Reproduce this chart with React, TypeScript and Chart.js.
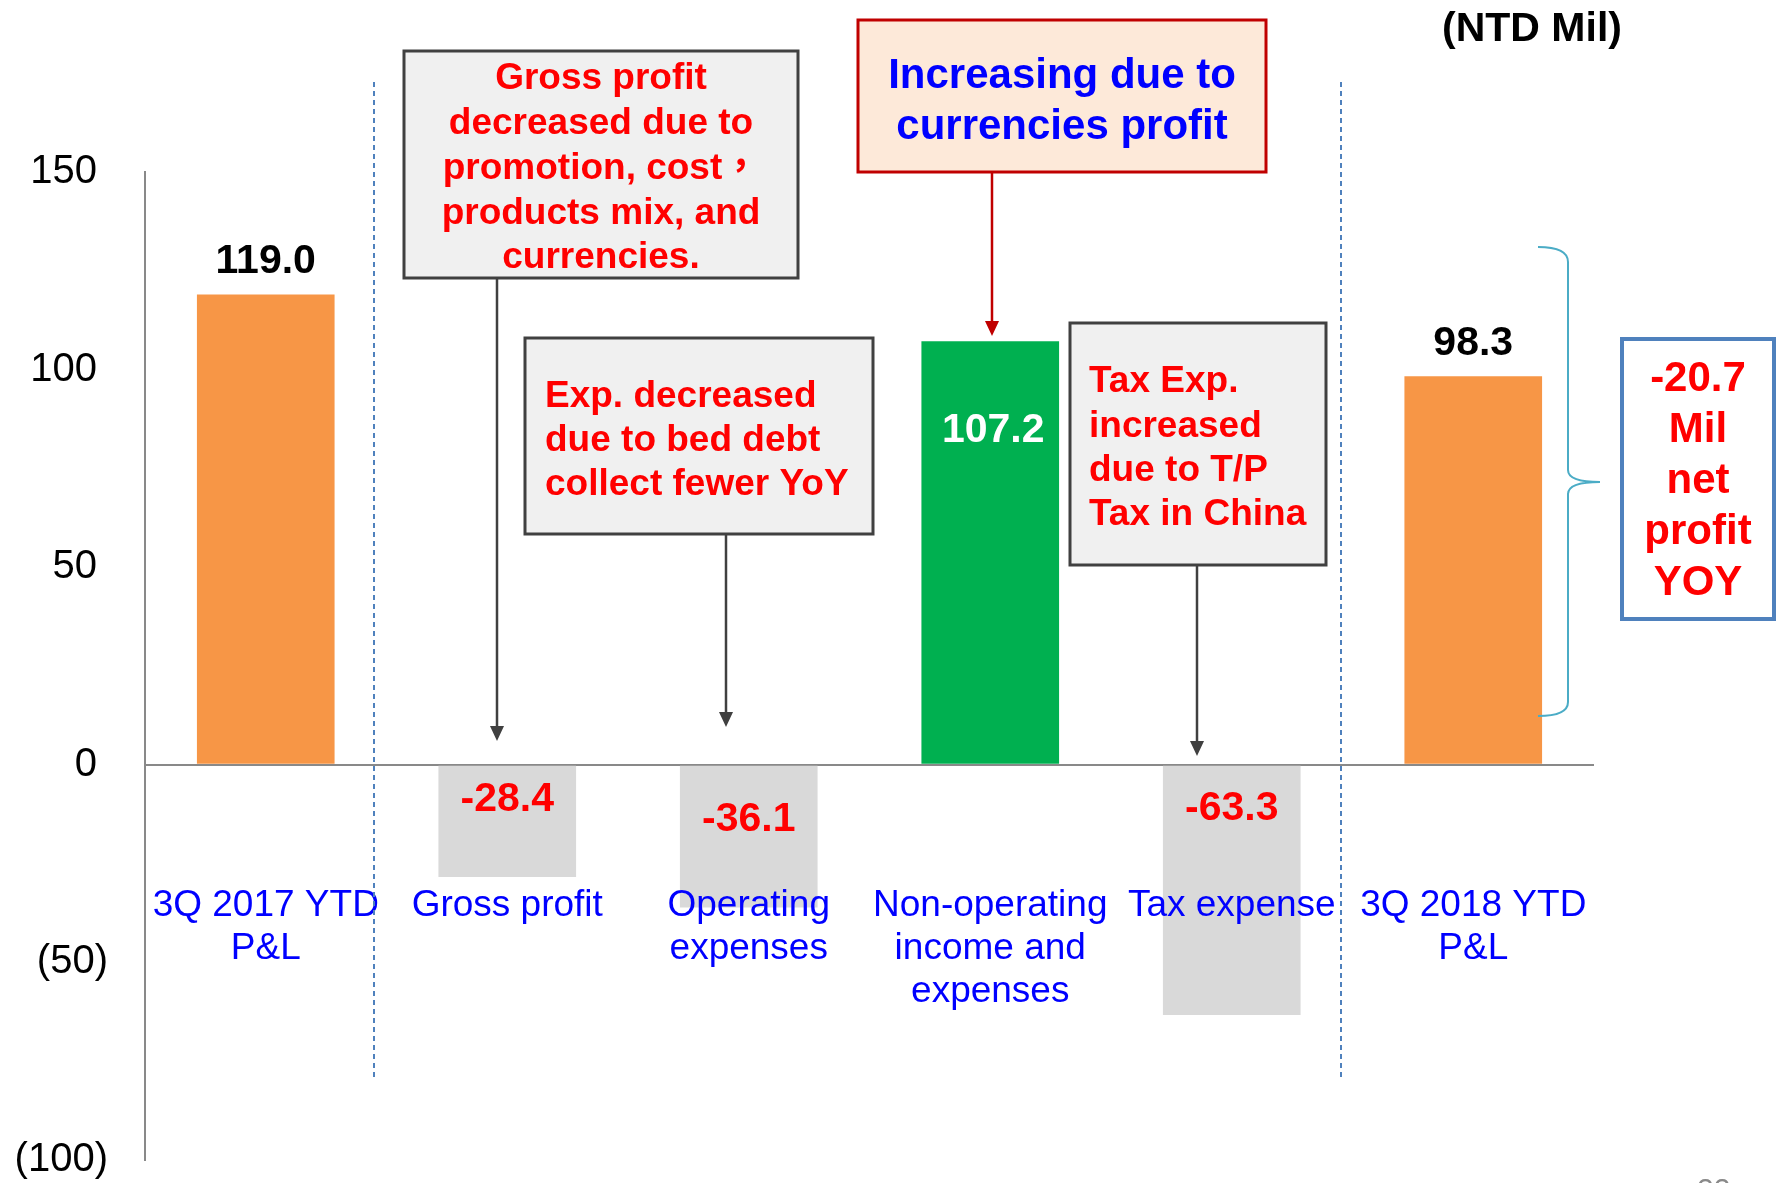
import React, { useEffect, useRef } from "react";
import { Chart, registerables } from "chart.js";
Chart.register(...registerables);

// ---------- data ----------
const categories: string[][] = [
  ["3Q 2017 YTD", "P&L"],
  ["Gross profit"],
  ["Operating", "expenses"],
  ["Non-operating", "income and", "expenses"],
  ["Tax expense"],
  ["3Q 2018 YTD", "P&L"],
];
const values = [119.0, -28.4, -36.1, 107.2, -63.3, 98.3];
const valueLabels = ["119.0", "-28.4", "-36.1", "107.2", "-63.3", "98.3"];
const yTicks = [-100, -50, 0, 50, 100, 150];

// ---------- styles ----------
const FONT = '"Liberation Sans", Arial, "Noto Sans CJK TC", sans-serif';
const barColors = ["#F79646", "#D9D9D9", "#D9D9D9", "#00B050", "#D9D9D9", "#F79646"];
const labelColors = ["#000000", "#FF0000", "#FF0000", "#FFFFFF", "#FF0000", "#000000"];
// offset (px) of value label centre from the bar's upper edge
const labelOffsets = [-33, 34, 54, 90, 43, -33];

type Box = {
  x: number; y: number; w: number; h: number;
  fill: string; stroke: string; lw: number;
  color: string; size: number; align: "center" | "left";
  textX?: number; firstY: number; lh: number; lines: string[];
};

const boxes: Box[] = [
  {
    x: 404, y: 51, w: 394, h: 227, fill: "#F0F0F0", stroke: "#404040", lw: 3,
    color: "#FF0000", size: 37, align: "center", firstY: 79, lh: 44.8,
    lines: ["Gross profit", "decreased due to", "promotion, cost\uFF0C", "products mix, and", "currencies."],
  },
  {
    x: 525, y: 338, w: 348, h: 196, fill: "#F0F0F0", stroke: "#404040", lw: 3,
    color: "#FF0000", size: 37, align: "left", textX: 545, firstY: 397, lh: 44,
    lines: ["Exp. decreased", "due to bed debt", "collect fewer YoY"],
  },
  {
    x: 858, y: 20, w: 408, h: 152, fill: "#FDE9D9", stroke: "#C00000", lw: 3,
    color: "#0000FF", size: 42, align: "center", firstY: 76, lh: 51,
    lines: ["Increasing due to", "currencies profit"],
  },
  {
    x: 1070, y: 323, w: 256, h: 242, fill: "#F0F0F0", stroke: "#404040", lw: 3,
    color: "#FF0000", size: 37, align: "left", textX: 1089, firstY: 382, lh: 44.3,
    lines: ["Tax Exp.", "increased", "due to T/P", "Tax in China"],
  },
  {
    x: 1622, y: 339, w: 152, h: 280, fill: "#FFFFFF", stroke: "#4F81BD", lw: 4,
    color: "#FF0000", size: 42, align: "center", firstY: 379, lh: 51.2,
    lines: ["-20.7", "Mil", "net", "profit", "YOY"],
  },
];

const arrows = [
  { x1: 497, y1: 278, x2: 497, y2: 741, color: "#404040" },
  { x1: 726, y1: 534, x2: 726, y2: 727, color: "#404040" },
  { x1: 992, y1: 172, x2: 992, y2: 336, color: "#C00000" },
  { x1: 1197, y1: 565, x2: 1197, y2: 756, color: "#404040" },
];

const annotationPlugin = {
  id: "annotations",
  afterDatasetsDraw(chart: any) {
    const ctx: CanvasRenderingContext2D = chart.ctx;
    const meta = chart.getDatasetMeta(0);
    const yScale = chart.scales.y;
    const zeroY = yScale.getPixelForValue(0);
    ctx.save();
    // value labels
    meta.data.forEach((bar: any, i: number) => {
      const top = Math.min(bar.y, bar.base);
      ctx.font = `bold 41px ${FONT}`;
      ctx.fillStyle = labelColors[i];
      ctx.textAlign = "center";
      ctx.textBaseline = "middle";
      ctx.fillText(valueLabels[i], bar.x + (i === 3 ? 3 : 0), top + labelOffsets[i]);
    });
    // category labels
    ctx.font = `37px ${FONT}`;
    ctx.fillStyle = "#0000FF";
    ctx.textAlign = "center";
    ctx.textBaseline = "middle";
    meta.data.forEach((bar: any, i: number) => {
      categories[i].forEach((line, j) => {
        ctx.fillText(line, bar.x, zeroY + 141 + j * 43);
      });
    });
    ctx.restore();
  },
  afterDraw(chart: any) {
    const ctx: CanvasRenderingContext2D = chart.ctx;
    ctx.save();
    // dashed separators
    ctx.strokeStyle = "#4F81BD";
    ctx.lineWidth = 2;
    ctx.setLineDash([5, 4]);
    [374, 1341].forEach((x) => {
      ctx.beginPath();
      ctx.moveTo(x, 82);
      ctx.lineTo(x, 1078);
      ctx.stroke();
    });
    ctx.setLineDash([]);

    // arrows
    arrows.forEach((a) => {
      ctx.strokeStyle = a.color;
      ctx.fillStyle = a.color;
      ctx.lineWidth = 2.5;
      ctx.beginPath();
      ctx.moveTo(a.x1, a.y1);
      ctx.lineTo(a.x2, a.y2 - 12);
      ctx.stroke();
      ctx.beginPath();
      ctx.moveTo(a.x2, a.y2);
      ctx.lineTo(a.x2 - 7, a.y2 - 15);
      ctx.lineTo(a.x2 + 7, a.y2 - 15);
      ctx.closePath();
      ctx.fill();
    });

    // boxes
    boxes.forEach((b) => {
      ctx.fillStyle = b.fill;
      ctx.fillRect(b.x, b.y, b.w, b.h);
      ctx.strokeStyle = b.stroke;
      ctx.lineWidth = b.lw;
      ctx.strokeRect(b.x, b.y, b.w, b.h);
      ctx.fillStyle = b.color;
      ctx.font = `bold ${b.size}px ${FONT}`;
      ctx.textBaseline = "middle";
      ctx.textAlign = b.align;
      const tx = b.align === "center" ? b.x + b.w / 2 : (b.textX as number);
      b.lines.forEach((line, j) => {
        ctx.fillText(line, tx, b.firstY + j * b.lh);
      });
    });

    // brace
    ctx.strokeStyle = "#4BACC6";
    ctx.lineWidth = 2;
    ctx.beginPath();
    ctx.moveTo(1538, 247);
    ctx.quadraticCurveTo(1568, 247, 1568, 262);
    ctx.lineTo(1568, 470);
    ctx.quadraticCurveTo(1568, 482, 1600, 482);
    ctx.quadraticCurveTo(1568, 482, 1568, 494);
    ctx.lineTo(1568, 702);
    ctx.quadraticCurveTo(1568, 716, 1538, 716);
    ctx.stroke();

    // unit
    ctx.fillStyle = "#000000";
    ctx.font = `bold 41px ${FONT}`;
    ctx.textAlign = "center";
    ctx.textBaseline = "middle";
    ctx.fillText("(NTD Mil)", 1532, 30);

    // page number (cut off)
    ctx.fillStyle = "#898989";
    ctx.font = `30px ${FONT}`;
    ctx.textAlign = "left";
    ctx.textBaseline = "top";
    ctx.fillText("22", 1697, 1176);
    ctx.restore();
  },
};

export default function App() {
  const ref = useRef<HTMLCanvasElement | null>(null);
  useEffect(() => {
    if (!ref.current) return;
    const chart = new Chart(ref.current, {
      type: "bar",
      data: {
        labels: categories.map((c) => c.join(" ")),
        datasets: [
          {
            data: values,
            backgroundColor: barColors,
            borderWidth: 0,
            barPercentage: 0.57,
            categoryPercentage: 1.0,
          },
        ],
      },
      options: {
        responsive: false,
        animation: false,
        layout: { padding: { top: 172, right: 185, bottom: 23, left: 0 } },
        plugins: { legend: { display: false }, tooltip: { enabled: false } },
        scales: {
          x: { display: false, offset: true },
          y: {
            min: yTicks[0],
            max: yTicks[yTicks.length - 1],
            afterFit: (scale: any) => {
              scale.width = 145;
              scale.paddingTop = 0;
              scale.paddingBottom = 0;
            },
            afterBuildTicks: (scale: any) => {
              scale.ticks = yTicks.map((v) => ({ value: v }));
            },
            ticks: {
              padding: 37,
              color: "#000000",
              font: { size: 40, family: FONT },
              callback: (v: any) => (Number(v) < 0 ? `(${-Number(v)})` : `${v} `),
            },
            grid: {
              drawTicks: false,
              lineWidth: 2,
              color: (c: any) => (c.tick && c.tick.value === 0 ? "#898989" : "rgba(0,0,0,0)"),
            },
            border: { display: true, color: "#898989", width: 2 },
          },
        },
      },
      plugins: [annotationPlugin],
    } as any);
    return () => chart.destroy();
  }, []);
  return (
    <div style={{ position: "absolute", left: 0, top: 0, width: 1779, height: 1183, background: "#fff" }}>
      <canvas ref={ref} width={1779} height={1183} style={{ display: "block" }} />
    </div>
  );
}
